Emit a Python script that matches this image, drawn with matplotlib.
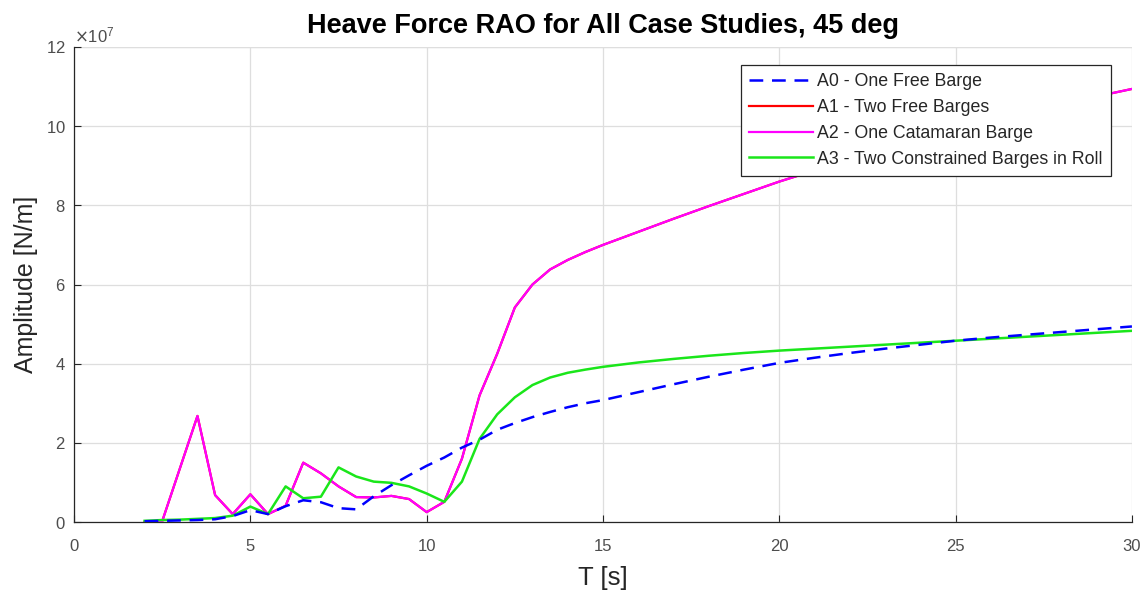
import matplotlib
matplotlib.use("Agg")
import matplotlib.pyplot as plt
import numpy as np
from matplotlib.ticker import ScalarFormatter

plt.rcParams['font.family'] = ['Liberation Sans', 'DejaVu Sans']

# Wave period [s]
period = [2, 2.5, 3, 3.5, 4, 4.5, 5, 5.5, 6, 6.5, 7, 7.5, 8, 8.5, 9, 9.5,
          10, 10.5, 11, 11.5, 12, 12.5, 13, 13.5, 14, 14.5, 15,
          16, 17, 18, 19, 20, 21, 22, 23, 24, 25, 26, 27, 28, 29, 30]

SCALE = 1e7  # amplitudes below are given in units of 1e7 N/m

a0_one_free = [0.02, 0.03, 0.04, 0.05, 0.07, 0.15, 0.30, 0.20, 0.40, 0.55, 0.50, 0.35, 0.32, 0.65, 0.93, 1.18,
               1.42, 1.63, 1.88, 2.08, 2.33, 2.50, 2.65, 2.78, 2.90, 3.00, 3.08,
               3.28, 3.48, 3.67, 3.85, 4.02, 4.15, 4.27, 4.38, 4.48, 4.58, 4.66, 4.73, 4.80, 4.87, 4.94]

a2_catamaran = [0.00, 0.02, 1.35, 2.68, 0.68, 0.20, 0.70, 0.20, 0.41, 1.50, 1.23, 0.90, 0.63, 0.62, 0.66, 0.58,
                0.25, 0.51, 1.60, 3.20, 4.25, 5.42, 6.00, 6.38, 6.62, 6.82, 7.00,
                7.33, 7.66, 7.98, 8.29, 8.60, 8.88, 9.15, 9.41, 9.66, 9.90, 10.12, 10.34, 10.55, 10.75, 10.94]

# Two free barges coincide with the catamaran case
a1_two_free = list(a2_catamaran)

a3_constrained = [0.03, 0.05, 0.06, 0.08, 0.10, 0.16, 0.39, 0.20, 0.90, 0.60, 0.64, 1.38, 1.15, 1.02, 0.99, 0.90,
                  0.72, 0.51, 1.02, 2.10, 2.72, 3.15, 3.46, 3.65, 3.77, 3.85, 3.92,
                  4.03, 4.12, 4.20, 4.27, 4.33, 4.38, 4.43, 4.48, 4.53, 4.58, 4.63, 4.68, 4.73, 4.78, 4.83]

labels = ["A0 - One Free Barge", "A1 - Two Free Barges",
          "A2 - One Catamaran Barge", "A3 - Two Constrained Barges in Roll"]

fig = plt.figure(figsize=(11.48, 5.97), dpi=100)
ax = fig.add_axes([0.0645, 0.1256, 0.9215, 0.7957])

T = np.array(period)
ax.plot(T, np.array(a0_one_free) * SCALE, color=(0, 0, 1), ls=(0, (5.5, 3.5)), lw=1.8, label=labels[0], zorder=5)
ax.plot(T, np.array(a1_two_free) * SCALE, color=(1, 0, 0), lw=1.6, label=labels[1], zorder=2)
ax.plot(T, np.array(a2_catamaran) * SCALE, color=(1, 0, 1), lw=1.6, label=labels[2], zorder=3)
ax.plot(T, np.array(a3_constrained) * SCALE, color=(0.1, 0.9, 0.1), lw=1.8, label=labels[3], zorder=4)

ax.set_xlim(0, 30)
ax.set_ylim(0, 12e7)
ax.set_xticks(np.arange(0, 31, 5))
ax.set_yticks(np.arange(0, 12.1e7, 2e7))

fmt = ScalarFormatter(useMathText=True)
fmt.set_powerlimits((7, 7))
ax.yaxis.set_major_formatter(fmt)

tick_gray = (0.3, 0.3, 0.3)
ax.tick_params(direction='in', length=5, width=0.8, colors=(0.15, 0.15, 0.15),
               labelcolor=tick_gray, labelsize=12)
ax.tick_params(axis='x', pad=12)
ax.tick_params(axis='y', pad=6)
ax.yaxis.get_offset_text().set_fontsize(12)
ax.yaxis.get_offset_text().set_color(tick_gray)

for side in ('top', 'right'):
    ax.spines[side].set_visible(False)
for side in ('left', 'bottom'):
    ax.spines[side].set_color((0.15, 0.15, 0.15))
    ax.spines[side].set_linewidth(0.9)

ax.grid(True, color=(0.87, 0.87, 0.87), lw=0.9)
ax.set_axisbelow(True)
# top gridline at the upper limit
ax.axhline(12e7, color=(0.87, 0.87, 0.87), lw=0.9, zorder=0)

ax.set_xlabel("T [s]", fontsize=18.5, color=(0.15, 0.15, 0.15), labelpad=9)
ax.set_ylabel("Amplitude [N/m]", fontsize=18, color=(0.15, 0.15, 0.15), labelpad=6)
ax.set_title("Heave Force RAO for All Case Studies, 45 deg", fontsize=19.5,
             fontweight='bold', pad=10)

leg = ax.legend(loc='upper right', bbox_to_anchor=(0.98, 0.962), fontsize=12.8,
                handlelength=3.6, handletextpad=0.25, labelspacing=0.5,
                borderpad=0.45, fancybox=False, framealpha=1, edgecolor=(0.15, 0.15, 0.15),
                borderaxespad=0)
leg.get_frame().set_linewidth(0.9)
for t in leg.get_texts():
    t.set_color((0.15, 0.15, 0.15))

fig.savefig("out.png", dpi=100)
